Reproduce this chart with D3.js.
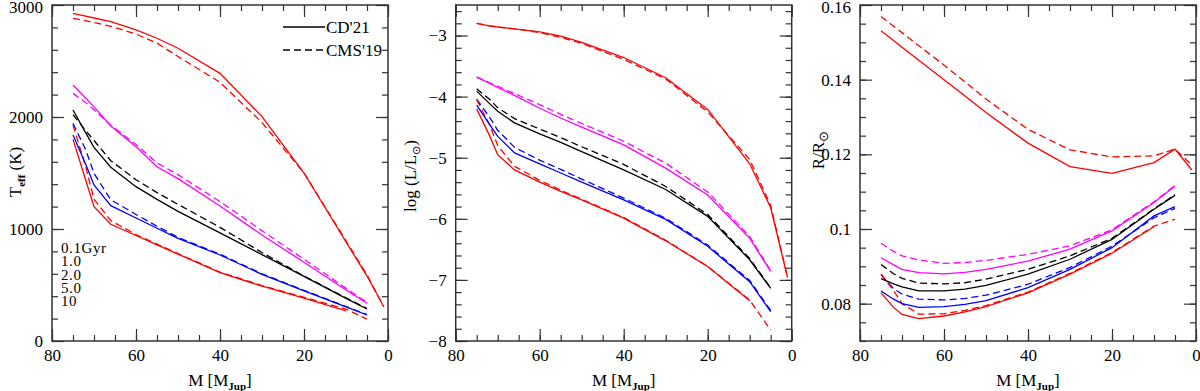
<!DOCTYPE html>
<html>
<head>
<meta charset="utf-8">
<script src="https://cdn.jsdelivr.net/npm/d3@7"></script>
<style>
  body { margin: 0; background: #fff; }
  text { font-family: "Liberation Serif", "Times New Roman", serif; fill: #000; }
</style>
</head>
<body>
<svg id="chart" width="1200" height="391"></svg>
<script>
// masses in M_Jup, one value per grid point of the tracks
const masses = [75, 72, 70, 66, 60, 55, 50, 40, 30, 20, 10, 5, 1]
const ages = ['0.1Gyr', '1.0', '2.0', '5.0', '10']

// Teff (K)
const teffCD_01 = [2925, 2900, 2884, 2851, 2777, 2703, 2614, 2390, 2003, 1500, 884, 580, 306]
const teffCD_1 = [2286, 2170, 2090, 1920, 1735, 1556, 1450, 1205, 946, 703, 455, 337, null]
const teffCD_2 = [2062, 1860, 1729, 1551, 1378, 1265, 1158, 965, 771, 577, 381, 286, null]
const teffCD_5 = [1839, 1580, 1393, 1208, 1098, 1007, 916, 768, 595, 447, 304, 232, null]
const teffCD_10 = [1800, 1440, 1199, 1042, 942, 859, 776, 610, 490, 383, 270, null, null]
const teffCMS_01 = [2881, 2860, 2843, 2810, 2740, 2660, 2540, 2310, 1950, 1500, 895, 590, 306]
const teffCMS_1 = [2211, 2130, 2065, 1925, 1755, 1590, 1485, 1245, 985, 730, 470, 345, null]
const teffCMS_2 = [2020, 1880, 1790, 1610, 1440, 1325, 1220, 1015, 790, 580, 385, 290, null]
const teffCMS_5 = [1943, 1710, 1497, 1260, 1130, 1025, 925, 775, 600, 452, 308, 236, null]
const teffCMS_10 = [1929, 1560, 1265, 1075, 950, 865, 780, 615, 495, 390, 285, 196, null]

// log L/Lsun
const lumCD_01 = [-2.80, -2.84, -2.86, -2.89, -2.94, -3.01, -3.11, -3.36, -3.69, -4.21, -5.10, -5.82, -6.96]
const lumCD_1 = [-3.68, -3.78, -3.85, -3.98, -4.19, -4.35, -4.50, -4.79, -5.17, -5.61, -6.32, -6.86, null]
const lumCD_2 = [-3.91, -4.11, -4.24, -4.43, -4.61, -4.75, -4.90, -5.20, -5.52, -5.96, -6.67, -7.14, null]
const lumCD_5 = [-4.14, -4.45, -4.65, -4.92, -5.10, -5.25, -5.40, -5.69, -6.01, -6.45, -7.03, -7.52, null]
const lumCD_10 = [-4.20, -4.63, -4.95, -5.20, -5.40, -5.55, -5.69, -5.99, -6.36, -6.78, -7.34, null, null]
const lumCMS_01 = [-2.80, -2.84, -2.86, -2.89, -2.95, -3.03, -3.13, -3.39, -3.71, -4.25, -5.03, -5.78, -6.96]
const lumCMS_1 = [-3.68, -3.77, -3.83, -3.95, -4.13, -4.29, -4.44, -4.73, -5.09, -5.56, -6.29, -6.85, null]
const lumCMS_2 = [-3.87, -4.04, -4.18, -4.36, -4.53, -4.67, -4.82, -5.11, -5.47, -5.93, -6.65, -7.13, null]
const lumCMS_5 = [-4.04, -4.33, -4.55, -4.83, -5.04, -5.19, -5.35, -5.66, -5.99, -6.43, -7.01, -7.50, null]
const lumCMS_10 = [-4.05, -4.45, -4.80, -5.14, -5.37, -5.53, -5.68, -5.98, -6.35, -6.78, -7.33, -7.82, null]

// R/Rsun
const radCD_01 = [0.1531, 0.1505, 0.1487, 0.1452, 0.1400, 0.1356, 0.1312, 0.1230, 0.1167, 0.1149, 0.1178, 0.1214, 0.1158]
const radCD_1 = [0.0923, 0.0904, 0.0892, 0.0883, 0.0880, 0.0884, 0.0892, 0.0914, 0.0946, 0.0995, 0.1071, 0.1115, null]
const radCD_2 = [0.0867, 0.0853, 0.0845, 0.0834, 0.0834, 0.0839, 0.0849, 0.0879, 0.0919, 0.0972, 0.1053, 0.1090, null]
const radCD_5 = [0.0834, 0.0812, 0.0800, 0.0790, 0.0792, 0.0798, 0.0808, 0.0843, 0.0892, 0.0950, 0.1035, 0.1060, null]
const radCD_10 = [0.0829, 0.0790, 0.0771, 0.0760, 0.0767, 0.0778, 0.0792, 0.0829, 0.0879, 0.0935, 0.1006, null, null]
const radCMS_01 = [0.1569, 0.1543, 0.1526, 0.1491, 0.1439, 0.1394, 0.1348, 0.1267, 0.1212, 0.1193, 0.1196, 0.1214, 0.1172]
const radCMS_1 = [0.0962, 0.0940, 0.0928, 0.0917, 0.0908, 0.0910, 0.0916, 0.0932, 0.0955, 0.0998, 0.1073, 0.1117, null]
const radCMS_2 = [0.0905, 0.0880, 0.0868, 0.0855, 0.0853, 0.0856, 0.0866, 0.0892, 0.0928, 0.0975, 0.1054, 0.1092, null]
const radCMS_5 = [0.0877, 0.0840, 0.0826, 0.0812, 0.0810, 0.0814, 0.0823, 0.0852, 0.0897, 0.0954, 0.1030, 0.1055, null]
const radCMS_10 = [0.0880, 0.0835, 0.0800, 0.0772, 0.0773, 0.0782, 0.0795, 0.0831, 0.0881, 0.0937, 0.1008, 0.1026, null]

// tick values
const massTicks = [80, 60, 40, 20, 0]
const teffTicks = [0, 1000, 2000, 3000]
const lumTicks = [-8, -7, -6, -5, -4, -3]
const radTicks = [0.08, 0.1, 0.12, 0.14, 0.16]

const ageColors = ['#ff0000', '#ff00ff', '#000000', '#0000ff', '#ff0000']
const plotTop = 5
const plotBottom = 341

const panels = [
  {x0: 52, x1: 388, yDomain: [0, 3000], yTicks: teffTicks, yMinor: 200,
   cd: [teffCD_01, teffCD_1, teffCD_2, teffCD_5, teffCD_10],
   cms: [teffCMS_01, teffCMS_1, teffCMS_2, teffCMS_5, teffCMS_10],
   fmt: d => d, title: 'teff', titleX: 15, titleY: 172},
  {x0: 455.7, x1: 791.7, yDomain: [-8, -2.5], yTicks: lumTicks, yMinor: 0.2,
   cd: [lumCD_01, lumCD_1, lumCD_2, lumCD_5, lumCD_10],
   cms: [lumCMS_01, lumCMS_1, lumCMS_2, lumCMS_5, lumCMS_10],
   fmt: d3.format('d'), title: 'lum', titleX: 410, titleY: 176},
  {x0: 860, x1: 1196, yDomain: [0.07, 0.16], yTicks: radTicks, yMinor: 0.005,
   cd: [radCD_01, radCD_1, radCD_2, radCD_5, radCD_10],
   cms: [radCMS_01, radCMS_1, radCMS_2, radCMS_5, radCMS_10],
   fmt: d => String(+d.toFixed(2)), title: 'rad', titleX: 818, titleY: 150}
]

const svg = d3.select('#chart')
svg.append('rect').attr('width', 1200).attr('height', 391).attr('fill', '#fff')

function styleAxis(g) {
  g.select('.domain').remove()
  g.attr('color', '#333')
  g.selectAll('line').attr('stroke-width', 1.2)
  g.selectAll('text').attr('font-size', 17).attr('font-family', '"Liberation Serif", serif').attr('fill', '#000')
}

panels.forEach(p => {
  const x = d3.scaleLinear().domain([80, 0]).range([p.x0, p.x1])
  const y = d3.scaleLinear().domain(p.yDomain).range([plotBottom, plotTop])
  const g = svg.append('g')

  const xMinor = d3.range(0, 81, 5)
  const yMinor = d3.range(p.yDomain[0], p.yDomain[1] + 1e-9, p.yMinor)

  // bottom/left labelled major ticks
  g.append('g').attr('transform', `translate(0,${plotBottom})`)
    .call(d3.axisBottom(x).tickValues(massTicks).tickSize(-12).tickPadding(8).tickFormat(d3.format('d')))
    .call(styleAxis)
  g.append('g').attr('transform', `translate(${p.x0},0)`)
    .call(d3.axisLeft(y).tickValues(p.yTicks).tickSize(-12).tickPadding(9).tickFormat(p.fmt))
    .call(styleAxis)
    .call(a => a.selectAll('.tick text').filter(d => y(d) < 10).attr('dy', '0.45em'))
  // minor ticks and mirrored ticks
  const blank = () => ''
  g.append('g').attr('transform', `translate(0,${plotBottom})`)
    .call(d3.axisBottom(x).tickValues(xMinor).tickSize(-6).tickFormat(blank)).call(styleAxis)
  g.append('g').attr('transform', `translate(0,${plotTop})`)
    .call(d3.axisTop(x).tickValues(xMinor).tickSize(-6).tickFormat(blank)).call(styleAxis)
  g.append('g').attr('transform', `translate(0,${plotTop})`)
    .call(d3.axisTop(x).tickValues(massTicks).tickSize(-12).tickFormat(blank)).call(styleAxis)
  g.append('g').attr('transform', `translate(${p.x0},0)`)
    .call(d3.axisLeft(y).tickValues(yMinor).tickSize(-6).tickFormat(blank)).call(styleAxis)
  g.append('g').attr('transform', `translate(${p.x1},0)`)
    .call(d3.axisRight(y).tickValues(yMinor).tickSize(-6).tickFormat(blank)).call(styleAxis)
  g.append('g').attr('transform', `translate(${p.x1},0)`)
    .call(d3.axisRight(y).tickValues(p.yTicks).tickSize(-12).tickFormat(blank)).call(styleAxis)

  g.append('rect')
    .attr('x', p.x0).attr('y', plotTop)
    .attr('width', p.x1 - p.x0).attr('height', plotBottom - plotTop)
    .attr('fill', 'none').attr('stroke', '#333').attr('stroke-width', 1.5)

  const line = d3.line()
    .defined(d => d[1] != null)
    .x(d => x(d[0]))
    .y(d => y(d[1]))

  const drawSet = (sets, dash) => {
    sets.forEach((vals, i) => {
      const pts = masses.map((m, j) => [m, vals[j]])
      g.append('path')
        .attr('d', line(pts))
        .attr('fill', 'none')
        .attr('stroke', ageColors[i])
        .attr('stroke-width', 1.3)
        .attr('stroke-dasharray', dash)
    })
  }
  drawSet(p.cms, '7,4')
  drawSet(p.cd, null)

  // x title
  const xt = g.append('text').attr('x', (p.x0 + p.x1) / 2).attr('y', 386)
    .attr('text-anchor', 'middle').attr('font-size', 17)
  xt.append('tspan').text('M  [M')
  xt.append('tspan').text('Jup').attr('font-size', 11).attr('font-weight', 'bold').attr('dy', 4)
  xt.append('tspan').text(']').attr('dy', -4)

  // y title
  const yt = g.append('text')
    .attr('transform', `translate(${p.titleX},${p.titleY}) rotate(-90)`)
    .attr('text-anchor', 'middle').attr('font-size', 17).attr('dy', '0.35em')
  if (p.title === 'teff') {
    yt.append('tspan').text('T')
    yt.append('tspan').text('eff').attr('font-size', 11).attr('font-weight', 'bold').attr('dy', 4)
    yt.append('tspan').text('  (K)').attr('dy', -4)
  } else if (p.title === 'lum') {
    yt.append('tspan').text('log  (L/L')
    yt.append('tspan').text('⊙').attr('font-size', 11).attr('dy', 4)
    yt.append('tspan').text(')').attr('dy', -4)
  } else {
    yt.append('tspan').text('R/R')
    yt.append('tspan').text('⊙').attr('font-size', 13).attr('dy', 4)
  }
})

// legend in first panel
const lg = svg.append('g')
lg.append('line').attr('x1', 283).attr('x2', 325).attr('y1', 27).attr('y2', 27)
  .attr('stroke', '#000').attr('stroke-width', 1.3)
lg.append('text').attr('x', 326).attr('y', 33).attr('font-size', 17).text("CD'21")
lg.append('line').attr('x1', 283).attr('x2', 325).attr('y1', 50).attr('y2', 50)
  .attr('stroke', '#000').attr('stroke-width', 1.3).attr('stroke-dasharray', '7,4')
lg.append('text').attr('x', 326).attr('y', 56).attr('font-size', 17).text("CMS'19")

// age labels, tightly stacked as in the original
svg.append('g').selectAll('text').data(ages).enter().append('text')
  .attr('x', 61)
  .attr('y', (d, i) => 253 + i * 13.3)
  .attr('font-size', 15)
  .attr('letter-spacing', 0.6)
  .text(d => d)
</script>
</body>
</html>
